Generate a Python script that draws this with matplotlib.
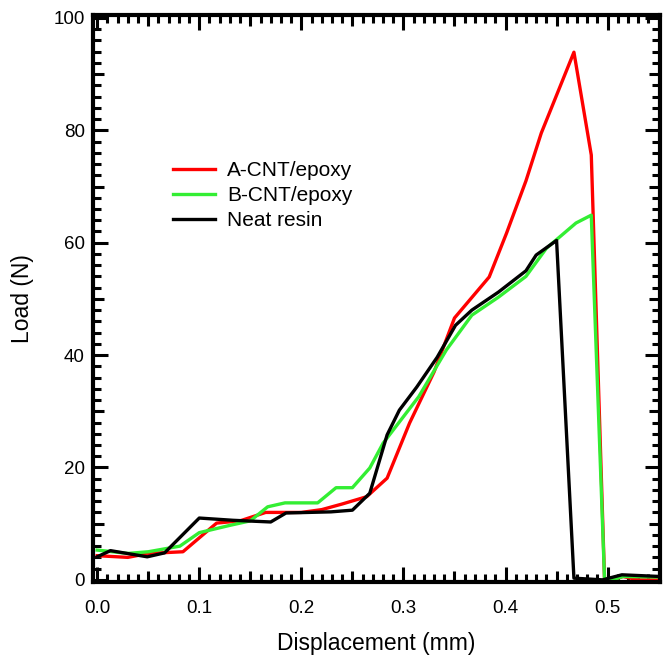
import matplotlib.pyplot as plt
from matplotlib.ticker import MultipleLocator, FuncFormatter

plt.rcParams['font.family'] = ['Liberation Sans', 'DejaVu Sans']

# A-CNT/epoxy
a_x = [0.0, 0.03, 0.05, 0.084, 0.117, 0.14, 0.165, 0.2, 0.22, 0.24, 0.264,
       0.284, 0.306, 0.33, 0.35, 0.384, 0.401, 0.42, 0.435, 0.467, 0.484,
       0.497, 0.505, 0.515, 0.53, 0.551]
a_y = [4.3, 4.0, 4.7, 5.0, 10.1, 10.5, 12.0, 12.0, 12.5, 13.5, 14.8,
       18.1, 27.9, 37.0, 46.6, 53.9, 61.7, 71.0, 79.5, 93.9, 75.6,
       0.0, 0.0, 0.6, 0.0, 0.0]

# B-CNT/epoxy
b_x = [0.0, 0.03, 0.05, 0.081, 0.1, 0.13, 0.15, 0.167, 0.184, 0.216, 0.234,
       0.25, 0.267, 0.28, 0.315, 0.342, 0.367, 0.393, 0.42, 0.44, 0.469,
       0.484, 0.497, 0.505, 0.515, 0.551]
b_y = [5.3, 4.7, 5.0, 6.0, 8.4, 9.7, 10.5, 13.0, 13.7, 13.7, 16.4,
       16.4, 19.9, 24.3, 32.6, 40.9, 47.1, 50.3, 54.0, 59.0, 63.5,
       64.9, 0.0, 0.0, 0.6, 0.5]

# Neat resin
n_x = [0.0, 0.013, 0.049, 0.066, 0.1, 0.133, 0.17, 0.185, 0.229, 0.25, 0.267,
       0.284, 0.296, 0.313, 0.333, 0.351, 0.367, 0.393, 0.42, 0.43, 0.45,
       0.467, 0.495, 0.514, 0.551]
n_y = [4.1, 5.2, 4.1, 4.8, 11.0, 10.6, 10.3, 11.9, 12.1, 12.4, 15.4,
       25.8, 30.2, 34.3, 39.6, 45.3, 48.0, 51.2, 55.0, 57.8, 60.4,
       0.3, 0.0, 0.9, 0.6]

fig = plt.figure(figsize=(6.65, 6.57), dpi=100)
ax = fig.add_axes([0.140, 0.114, 0.852, 0.863])

ax.plot(a_x, a_y, color='#ff0000', lw=2.4, label='A-CNT/epoxy')
ax.plot(b_x, b_y, color='#33ee33', lw=2.4, label='B-CNT/epoxy')
ax.plot(n_x, n_y, color='black', lw=2.4, label='Neat resin')

ax.set_xlim(-0.004, 0.551)
ax.set_ylim(-0.4, 100.5)

ax.xaxis.set_major_locator(MultipleLocator(0.05))
ax.xaxis.set_minor_locator(MultipleLocator(0.01))
ax.yaxis.set_major_locator(MultipleLocator(10))
ax.yaxis.set_minor_locator(MultipleLocator(2))
ax.xaxis.set_major_formatter(FuncFormatter(
    lambda v, p: f"{v:.1f}" if abs(round(v * 10) - v * 10) < 1e-6 else ""))
ax.yaxis.set_major_formatter(FuncFormatter(
    lambda v, p: f"{v:.0f}" if round(v) % 20 == 0 else ""))

ax.tick_params(which='both', direction='in', top=True, right=True,
               width=2.2, labelsize=13.5, colors='black')
ax.tick_params(which='major', length=11)
ax.tick_params(which='minor', length=6)
ax.tick_params(axis='x', pad=13)
ax.tick_params(axis='y', pad=6)

for sp in ax.spines.values():
    sp.set_linewidth(3)

fig.canvas.draw()
# shorter ticks at the half steps
for t, v in zip(ax.xaxis.get_major_ticks(), ax.xaxis.get_majorticklocs()):
    if abs(round(v * 10) - v * 10) > 1e-6:
        t.tick1line.set_markersize(8)
        t.tick2line.set_markersize(8)
for t, v in zip(ax.yaxis.get_major_ticks(), ax.yaxis.get_majorticklocs()):
    if round(v) % 20 != 0:
        t.tick1line.set_markersize(8)
        t.tick2line.set_markersize(8)

ax.set_xlabel('Displacement (mm)', fontsize=16.5, labelpad=11)
ax.set_ylabel('Load (N)', fontsize=16.5, labelpad=14)

ax.legend(loc='upper left', bbox_to_anchor=(0.108, 0.775), frameon=False,
          fontsize=15, handlelength=2.0, handletextpad=0.6, labelspacing=0.28)

fig.savefig('out.png', dpi=100)
